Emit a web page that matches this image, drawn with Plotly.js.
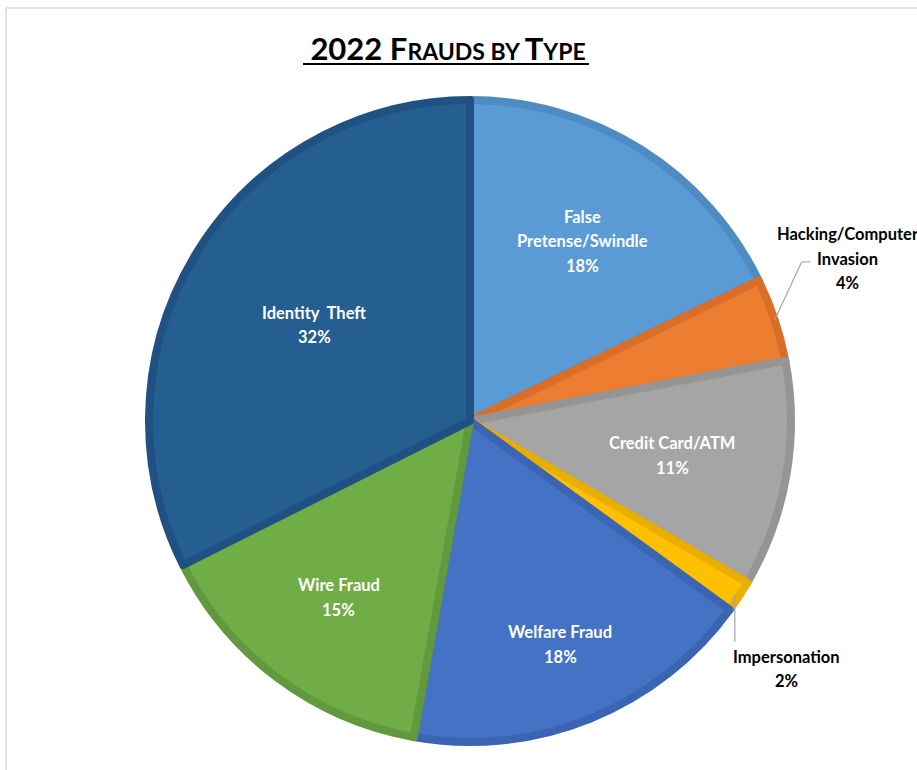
<!DOCTYPE html>
<html>
<head>
<meta charset="utf-8">
<script src="https://cdn.plot.ly/plotly-3.0.1.min.js"></script>
<style>html,body{margin:0;padding:0;background:#fff;}#chart{width:917px;height:770px;}</style>
</head>
<body>
<div id="chart"></div>
<script>
// ---- data ----
var categories = ["False<br>Pretense/Swindle", "Hacking/Computer<br>Invasion", "Credit Card/ATM", "Impersonation", "Welfare Fraud", "Wire Fraud", "Identity  Theft"];
var values = [17.8, 4.2, 11.4, 1.6, 17.8, 14.8, 32.4];
var fillColors = ["#5B9BD5", "#ED7D31", "#A5A5A5", "#FFC000", "#4472C4", "#70AD47", "#255E91"];
var lineColors = ["#4E8BC3", "#D86E27", "#959595", "#E8AE00", "#3B65B2", "#63993E", "#1F5283"];

// ---- geometry (pixels) ----
var W = 917, H = 770;
var cx = 470, cy = 421, R = 321;
var lineW = 8;

function px2paperX(x){ return x / W; }
function px2paperY(y){ return 1 - y / H; }

var total = values.reduce(function(a,b){return a+b;}, 0);
var pct = values.map(function(v){ return Math.round(v/total*100) + "%"; });

// label placement: fraction of radius for inside labels; null = outside
var insideFrac = [0.66, null, 0.64, null, 0.75, 0.685, 0.57];

var annotations = [];
var shapes = [];
var cum = 0;
var lineStep = 24.5;
var fam = "Lato, 'Open Sans', sans-serif";
var labelFont = {family: fam, size: 16.5, color: "#ffffff", weight: 700};
var outFont = {family: fam, size: 16.5, color: "#000000", weight: 700};

function addLines(lines, x, yCenter, font){
  var n = lines.length;
  for (var k = 0; k < n; k++){
    var y = yCenter + (k - (n-1)/2) * lineStep;
    annotations.push({
      xref: "paper", yref: "paper", x: px2paperX(x), y: px2paperY(y),
      text: "<b>" + lines[k] + "</b>", showarrow: false, font: font,
      xanchor: "center", yanchor: "middle"
    });
  }
}

for (var i = 0; i < values.length; i++){
  var a0 = cum / total * 2 * Math.PI;
  cum += values[i];
  var a1 = cum / total * 2 * Math.PI;
  var am = (a0 + a1) / 2;
  var lines = categories[i].split("<br>").concat([pct[i]]);
  if (insideFrac[i] !== null){
    var r = R * insideFrac[i];
    addLines(lines, cx + r*Math.sin(am), cy - r*Math.cos(am), labelFont);
  } else if (i === 1){
    // Hacking: leader up-right, label above
    var sx = cx + R*1.0*Math.sin(am), sy = cy - R*1.0*Math.cos(am);
    var ex = sx + 27, ey = sy - 58;
    shapes.push({type:"line", xref:"paper", yref:"paper", x0:px2paperX(sx), y0:px2paperY(sy), x1:px2paperX(ex), y1:px2paperY(ey), line:{color:"#a6a6a6", width:1.2}});
    shapes.push({type:"line", xref:"paper", yref:"paper", x0:px2paperX(ex), y0:px2paperY(ey), x1:px2paperX(ex+9), y1:px2paperY(ey), line:{color:"#a6a6a6", width:1.2}});
    addLines(lines, ex + 46, ey - 3, outFont);
  } else {
    // Impersonation: leader straight down, label below
    var sx2 = cx + R*0.985*Math.sin(am), sy2 = cy - R*0.985*Math.cos(am);
    var ey2 = sy2 + 48;
    shapes.push({type:"line", xref:"paper", yref:"paper", x0:px2paperX(sx2), y0:px2paperY(sy2), x1:px2paperX(sx2), y1:px2paperY(ey2), line:{color:"#a6a6a6", width:1.2}});
    addLines(lines, sx2 + 52, ey2 + 27, outFont);
  }
}

// outer frame lines (top and left)
shapes.push({type:"line", xref:"paper", yref:"paper", x0:px2paperX(6), y0:px2paperY(8), x1:1.0, y1:px2paperY(8), line:{color:"#d9d9d9", width:1.5}});
shapes.push({type:"line", xref:"paper", yref:"paper", x0:px2paperX(6), y0:px2paperY(8), x1:px2paperX(6), y1:0, line:{color:"#d9d9d9", width:1.5}});

// title (small caps emulated) with drawn underline
var big = 31, small = 23;
var titleText = "<b>2022 F<span style='font-size:" + small + "px'>RAUDS BY </span>T<span style='font-size:" + small + "px'>YPE</span></b>";
shapes.push({type:"line", xref:"paper", yref:"paper", x0:px2paperX(303), y0:px2paperY(64), x1:px2paperX(589), y1:px2paperY(64), line:{color:"#000000", width:2}});

var trace = {
  type: "pie",
  values: values,
  labels: categories,
  sort: false,
  direction: "clockwise",
  rotation: 0,
  textinfo: "none",
  hoverinfo: "label+percent",
  marker: {colors: fillColors, line: {color: lineColors, width: lineW}},
  domain: {
    x: [px2paperX(cx - R), px2paperX(cx + R)],
    y: [px2paperY(cy + R), px2paperY(cy - R)]
  },
  showlegend: false
};

var layout = {
  width: W, height: H,
  margin: {l: 0, r: 0, t: 0, b: 0},
  paper_bgcolor: "#ffffff",
  title: {
    text: titleText,
    font: {family: fam, size: big, color: "#000000"},
    x: px2paperX(448), xanchor: "center", xref: "paper",
    y: px2paperY(49), yanchor: "middle", yref: "paper"
  },
  annotations: annotations,
  shapes: shapes,
  showlegend: false
};

Plotly.newPlot("chart", [trace], layout, {displayModeBar: false, staticPlot: true});
</script>
</body>
</html>
